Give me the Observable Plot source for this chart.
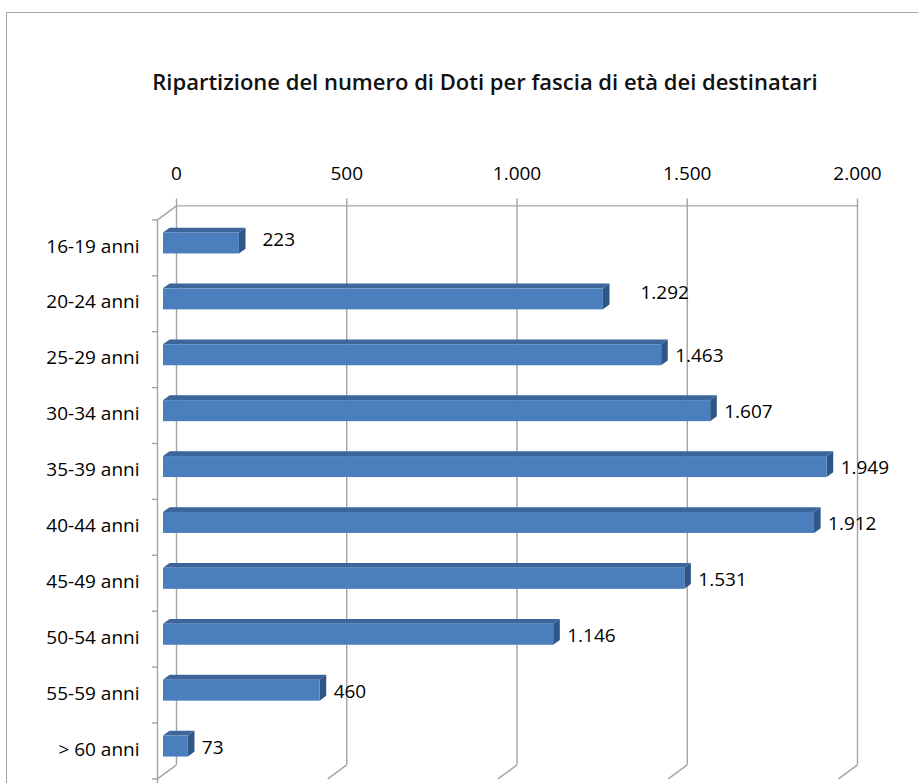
<!DOCTYPE html>
<html>
<head>
<meta charset="utf-8">
<script src="https://cdn.jsdelivr.net/npm/d3@7"></script>
<script src="https://cdn.jsdelivr.net/npm/@observablehq/plot@0.6"></script>
<style>
  html, body { margin: 0; padding: 0; background: #fff; overflow: hidden; }
  #wrap { position: relative; width: 918px; height: 783px; overflow: hidden; }
  #frame { position: absolute; left: 6px; top: 12px; width: 1000px; height: 1000px; border: 1.5px solid #a3a3a3; box-sizing: border-box; }
  #title { position: absolute; left: 0; width: 970px; top: 66px; text-align: center;
           font-family: "Open Sans", sans-serif; font-size: 22px; font-weight: 600; color: #111; line-height: 30px; }
  #chart { position: absolute; left: 0; top: 0; }
</style>
</head>
<body>
<div id="wrap">
  <div id="frame"></div>
  <div id="title">Ripartizione del numero di Doti per fascia di età dei destinatari</div>
  <div id="chart"></div>
</div>
<script>
const categories = ["16-19 anni", "20-24 anni", "25-29 anni", "30-34 anni", "35-39 anni",
                    "40-44 anni", "45-49 anni", "50-54 anni", "55-59 anni", "> 60 anni"];
const values = [223, 1292, 1463, 1607, 1949, 1912, 1531, 1146, 460, 73];
const xTicks = [0, 500, 1000, 1500, 2000];

const fmt = v => d3.format(",")(v).replace(/,/g, ".");

const W = 918, H = 783, ML = 163, MR = 74, MT = 215, MB = 9;
const ux = 2000 / (W - ML - MR);      // data units per px (x)
const uy = 10 / (H - MT - MB);        // index units per px (y)
const back = {dx: 13, dy: -9.6};
const front = {dx: -6, dy: 4.4};
const depth = {dx: 6.6, dy: -4.8};
const h = 21 * uy;

const rows = categories.map((c, i) => ({c, i, v: values[i]}));
const labelNudge = {"16-19 anni": [9.5, -5], "20-24 anni": [23.5, -7]};

const topPts = rows.flatMap(d => [
  {i: d.i, y: d.i - h / 2, x1: 0, x2: d.v},
  {i: d.i, y: d.i - h / 2 + depth.dy * uy, x1: depth.dx * ux, x2: d.v + depth.dx * ux}
]);
const sidePts = rows.flatMap(d => [
  {i: d.i, x: d.v, y1: d.i - h / 2, y2: d.i + h / 2},
  {i: d.i, x: d.v + depth.dx * ux, y1: d.i - h / 2 + depth.dy * uy, y2: d.i + h / 2 + depth.dy * uy}
]);

const grid = {stroke: "#a3a3a3", strokeWidth: 1.4};

const chart = Plot.plot({
  width: W, height: H,
  marginLeft: ML, marginRight: MR, marginTop: MT, marginBottom: MB,
  style: {fontFamily: "Open Sans, sans-serif", fontSize: "19px", color: "#000", background: "transparent"},
  x: {domain: [0, 2000]},
  y: {domain: [-0.5, 9.5], reverse: true},
  marks: [
    // back wall gridlines (with small ticks above the top edge)
    Plot.ruleX(xTicks, {x: d => d, y1: -0.5 - 7 * uy, y2: 9.5, dx: back.dx, dy: back.dy, ...grid}),
    // back wall top edge
    Plot.ruleY([-0.5], {x1: 0, x2: 2000, dx: back.dx, dy: back.dy, ...grid}),
    // floor diagonals at the bottom
    Plot.link(xTicks, {
      x1: d => d + back.dx * ux, y1: 9.5 + back.dy * uy,
      x2: d => d + front.dx * ux, y2: 9.5 + front.dy * uy, ...grid
    }),
    // left wall front edge
    Plot.ruleX([0], {y1: -0.5, y2: 9.5 + 12 * uy, dx: front.dx, dy: front.dy, ...grid}),
    // left wall top diagonal
    Plot.link([0], {
      x1: back.dx * ux, y1: -0.5 + back.dy * uy,
      x2: front.dx * ux, y2: -0.5 + front.dy * uy, ...grid
    }),
    // left wall ticks
    Plot.ruleY(d3.range(11).map(k => k - 0.5), {x1: -5 * ux, x2: 0, dx: front.dx, dy: front.dy, ...grid}),
    // bars: top face, side face, front face
    Plot.areaX(topPts, {x1: "x1", x2: "x2", y: "y", z: "i", fill: "#3b659b"}),
    Plot.areaY(sidePts, {x: "x", y1: "y1", y2: "y2", z: "i", fill: "#2e5686"}),
    Plot.rectX(rows, {x1: 0, x2: "v", y1: d => d.i - h / 2, y2: d => d.i + h / 2, fill: "#4a7ebd"}),
    // value labels
    Plot.text(rows, {
      x: d => d.v + (13.5 + (labelNudge[d.c] ? labelNudge[d.c][0] : 0)) * ux,
      y: d => d.i + (1 + (labelNudge[d.c] ? labelNudge[d.c][1] : 0)) * uy,
      text: d => fmt(d.v), textAnchor: "start", fill: "#000", fontSize: 19
    }),
    // axes
    Plot.axisX(xTicks, {anchor: "top", tickSize: 0, tickPadding: 36, dx: back.dx, tickFormat: fmt, label: null, fontSize: 19}),
    Plot.axisY(d3.range(10), {anchor: "left", tickSize: 0, tickPadding: 24, dy: 3, tickFormat: i => categories[i], label: null, fontSize: 19})
  ]
});
document.getElementById("chart").appendChild(chart);
</script>
</body>
</html>
